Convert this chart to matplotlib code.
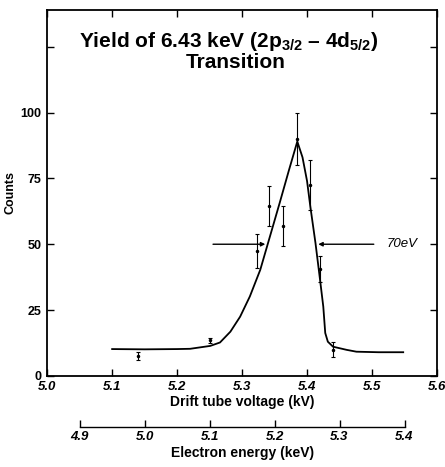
import numpy as np
import matplotlib.pyplot as plt

plt.rcParams['font.family'] = ['Liberation Sans', 'DejaVu Sans']
plt.rcParams['mathtext.fontset'] = 'custom'
plt.rcParams['mathtext.rm'] = 'Liberation Sans:bold'
plt.rcParams['mathtext.it'] = 'Liberation Sans:bold'

# Smooth curve through the data (drift tube voltage kV, counts)
curve_x = [5.10, 5.15, 5.20, 5.22, 5.251, 5.266, 5.282, 5.297, 5.312,
           5.328, 5.340, 5.358, 5.372, 5.385, 5.393, 5.400, 5.405, 5.413,
           5.420, 5.425, 5.428, 5.432, 5.440, 5.461, 5.476, 5.510, 5.548]
curve_y = [10.2, 10.1, 10.2, 10.3, 11.4, 12.7, 16.8, 22.5, 30.2,
           40.3, 50.5, 65.8, 78.0, 89.0, 83.0, 74.0, 64.4, 50.4,
           36.5, 26.3, 16.3, 13.0, 11.1, 9.9, 9.2, 9.0, 9.0]

# Measured points with error bars
pts_x = [5.14, 5.25, 5.323, 5.342, 5.363, 5.384, 5.405, 5.42, 5.44]
pts_y = [7.5, 13.5, 47.5, 64.5, 57.0, 90.0, 72.5, 40.5, 10.0]
pts_err = [1.5, 1.0, 6.5, 7.5, 7.5, 10.0, 9.5, 5.0, 3.0]

# FWHM marker
fwhm_y = 50
fwhm_left = (5.251, 5.340)
fwhm_right = (5.413, 5.507)
fwhm_label = '70eV'

xticks = [5.0, 5.1, 5.2, 5.3, 5.4, 5.5, 5.6]
yticks = [0, 25, 50, 75, 100]
energy_ticks = [4.9, 5.0, 5.1, 5.2, 5.3, 5.4]
energy_offset = 0.15

fig = plt.figure(figsize=(4.45, 4.67), dpi=100)
ax = fig.add_axes([0.106, 0.195, 0.876, 0.784])

ax.plot(curve_x, curve_y, color='black', lw=1.3)
ax.errorbar(pts_x, pts_y, yerr=pts_err, fmt='o', ms=1.5, color='black',
            elinewidth=0.8, capsize=1.5, capthick=0.8)

# FWHM arrows
ax.annotate('', xy=(fwhm_left[1], fwhm_y), xytext=(fwhm_left[0], fwhm_y),
            arrowprops=dict(arrowstyle='-|>', color='black', lw=1.0,
                            mutation_scale=6))
ax.annotate('', xy=(fwhm_right[0], fwhm_y), xytext=(fwhm_right[1], fwhm_y),
            arrowprops=dict(arrowstyle='-|>', color='black', lw=1.0,
                            mutation_scale=6))
ax.text(fwhm_right[1] + 0.015, fwhm_y, fwhm_label, ha='left', va='center',
        fontsize=9.5, style='italic')

ax.text(5.28, 127, 'Yield of 6.43 keV (2p$_{3/2}$ \u2013 4d$_{5/2}$)',
        ha='center', va='center', fontsize=15, fontweight='bold')
ax.text(5.29, 119, 'Transition', ha='center', va='center',
        fontsize=15, fontweight='bold')

ax.set_xlim(5.0, 5.6)
ax.set_ylim(0, 139)
ax.set_xticks(xticks)
ax.set_xticklabels([f'{v:.1f}' for v in xticks], fontweight='bold',
                   style='italic', fontsize=9.5)
ax.set_yticks(yticks + [125])
ax.set_yticklabels([str(v) for v in yticks] + [''], fontweight='bold',
                   fontsize=9)
ax.tick_params(direction='in', length=5, width=1, top=True, right=True)
ax.tick_params(axis='x', pad=4)
ax.tick_params(axis='y', pad=4)
for s in ax.spines.values():
    s.set_linewidth(1.3)

ax.set_xlabel('Drift tube voltage (kV)', fontweight='bold', fontsize=10,
              labelpad=1)
ax.set_ylabel('Counts', fontweight='bold', fontsize=9, labelpad=3)

# Secondary energy axis
ax2 = fig.add_axes([0.106, 0.0857, 0.876, 0.001])
ax2.set_xlim(5.0 - energy_offset, 5.6 - energy_offset)
ax2.set_yticks([])
for side in ['top', 'left', 'right']:
    ax2.spines[side].set_visible(False)
ax2.spines['bottom'].set_bounds(energy_ticks[0], energy_ticks[-1])
ax2.spines['bottom'].set_linewidth(1.0)
ax2.patch.set_visible(False)
ax2.set_xticks(energy_ticks)
ax2.set_xticklabels([f'{v:.1f}' for v in energy_ticks], fontweight='bold',
                    style='italic', fontsize=9.5)
ax2.tick_params(axis='x', direction='in', length=5, width=1, pad=3)
ax2.set_xlabel('Electron energy (keV)', fontweight='bold', fontsize=10,
               labelpad=2)

fig.savefig('out.png', dpi=100)
